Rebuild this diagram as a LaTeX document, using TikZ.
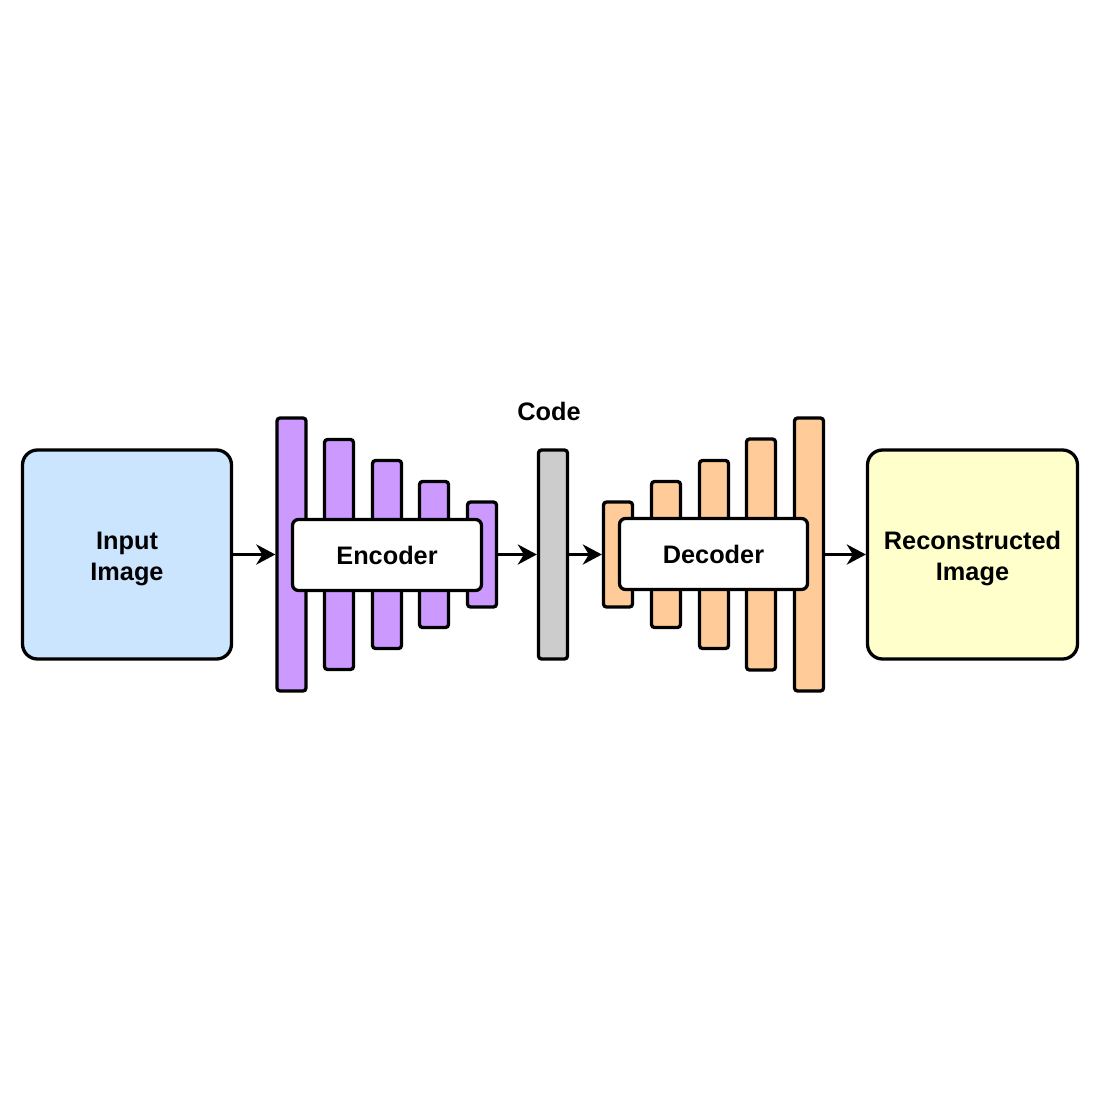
\documentclass[tikz,border=0pt]{standalone}
\usepackage{fontspec}
\setmainfont{Liberation Sans}
\usetikzlibrary{arrows.meta}
\definecolor{inblue}{HTML}{CCE5FF}
\definecolor{encpurple}{HTML}{CC99FF}
\definecolor{codegrey}{HTML}{CCCCCC}
\definecolor{decorange}{HTML}{FFCC99}
\definecolor{outyellow}{HTML}{FFFFCC}
\newcommand{\toppad}{\rule{0pt}{26pt}}
\tikzset{
  base/.style={draw=black, line width=3.3pt, inner sep=0pt, align=center,
    font=\bfseries\fontsize{25.3}{31}\selectfont},
  bigbox/.style={base, rounded corners=15pt, minimum width=209pt, minimum height=209pt},
  layer/.style={base, rounded corners=3pt, minimum width=29pt},
  label box/.style={base, fill=white, rounded corners=6pt, minimum width=189pt, minimum height=71pt},
  conn/.style={line width=3.3pt, -{Stealth[length=19pt,width=20pt,inset=6pt]}},
}
\begin{document}
\begin{tikzpicture}[x=1pt,y=-1pt]
\useasboundingbox (0,0) rectangle (1100,1100);
% input
\node[bigbox, fill=inblue] (in) at (127,554.5) {\toppad Input\\Image};
% encoder layers
\node[layer, fill=encpurple, minimum height=273pt] (e1) at (291.5,554.5) {};
\node[layer, fill=encpurple, minimum height=230pt] (e2) at (339,554.5) {};
\node[layer, fill=encpurple, minimum height=188pt] (e3) at (387,554.5) {};
\node[layer, fill=encpurple, minimum height=146pt] (e4) at (434,554.5) {};
\node[layer, fill=encpurple, minimum height=105pt] (e5) at (482,554.5) {};
\node[label box] (enc) at (387,555) {Encoder};
% code
\node[layer, fill=codegrey, minimum height=209pt] (code) at (553,554.5) {};
\node[base, draw=none] (codelbl) at (549,411) {Code};
% decoder layers
\node[layer, fill=decorange, minimum height=105pt] (d1) at (618,554.5) {};
\node[layer, fill=decorange, minimum height=146pt] (d2) at (666,554.5) {};
\node[layer, fill=decorange, minimum height=188pt] (d3) at (714,554.5) {};
\node[layer, fill=decorange, minimum height=231pt] (d4) at (761,554.5) {};
\node[layer, fill=decorange, minimum height=273pt] (d5) at (809,554.5) {};
\node[label box, minimum width=188pt] (dec) at (713.5,554) {Decoder};
% output
\node[bigbox, fill=outyellow, minimum width=210pt] (out) at (972.5,554.5) {\toppad Reconstructed\\Image};
% connectors
\draw[conn] (in) -- (e1);
\draw[conn] (e5) -- (code);
\draw[conn] (code) -- (d1);
\draw[conn] (d5) -- (out);
\end{tikzpicture}
\end{document}
